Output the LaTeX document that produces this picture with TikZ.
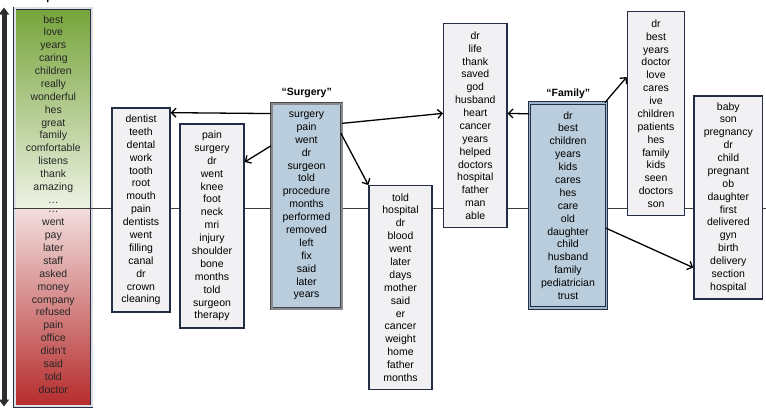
\documentclass[tikz,border=0pt]{standalone}
\usepackage{fontspec}
\setmainfont{Liberation Sans}
\usetikzlibrary{arrows.meta}

\definecolor{boxline}{RGB}{35,45,70}
\definecolor{boxfill}{RGB}{241,241,243}
\definecolor{topicfill}{RGB}{185,205,220}
\definecolor{topicgap}{RGB}{160,182,200}
\definecolor{surgline}{RGB}{70,72,76}
\definecolor{surggap}{RGB}{135,138,142}
\definecolor{greentop}{RGB}{118,164,58}
\definecolor{greenbot}{RGB}{238,242,228}
\definecolor{redtop}{RGB}{242,222,222}
\definecolor{redbot}{RGB}{182,44,44}
\definecolor{axisgray}{RGB}{45,45,45}
\definecolor{midline}{RGB}{60,60,60}

\newcommand\wlist{\fontsize{10.5}{12.88}\selectfont}

\tikzset{
  wordbox/.style={draw=boxline, line width=1.3pt, fill=boxfill, font=\wlist,
    align=center, inner sep=0pt},
  topicbox/.style={draw=boxline, line width=0.9pt, double=topicgap,
    double distance=1.6pt, fill=topicfill, font=\wlist, align=center, inner sep=0pt},
  surgbox/.style={topicbox, draw=surgline, double=surggap, double distance=2pt},
  wordcol/.style={font=\wlist, align=center, inner sep=0pt, text=black!85},
  topiclabel/.style={font=\bfseries\fontsize{10.5}{12}\selectfont, inner sep=0pt},
  conn/.style={draw=black, line width=1.3pt,
    -{Straight Barb[length=4.5pt,width=9pt]}},
}

\begin{document}
\begin{tikzpicture}[x=1pt,y=-1pt]
\useasboundingbox (0,0) rectangle (766,408);

% perspective axis
\draw[line width=5pt, axisgray,
  {Triangle[length=7pt,width=10pt]}-{Triangle[length=7pt,width=10pt]}]
  (4,7.5) -- (4,406.5);
\node[topiclabel, anchor=base] (persp) at (53,0.8) {Perspective};

% positive / negative word column
\shade[top color=greentop, bottom color=greenbot] (15,8.3) rectangle (91.7,208.3);
\shade[top color=redtop, bottom color=redbot] (15,208.3) rectangle (91.7,405.7);
\node[draw=boxline, line width=0.8pt, double=white!85!boxline, double distance=1.4pt,
  minimum width=77pt, minimum height=398pt, inner sep=0pt] (bar) at (53.3,207) {};

% dividing line
\draw[midline, line width=0.8pt] (bar.west |- 0,208.3) -- (766,208.3);

\node[wordcol] (poswords) at (53.3,109.4)
  {best\\love\\years\\caring\\children\\really\\wonderful\\hes\\great\\family\\comfortable\\listens\\thank\\amazing\\\dots};
\node[wordcol] (negwords) at (53.3,302.6)
  {\dots\\went\\pay\\later\\staff\\asked\\money\\company\\refused\\pain\\office\\didn't\\said\\told\\doctor};

% word boxes
\node[wordbox, minimum width=58pt, minimum height=204pt] (dent) at (141,210)
  {dentist\\teeth\\dental\\work\\tooth\\root\\mouth\\pain\\dentists\\went\\filling\\canal\\dr\\crown\\cleaning};
\node[wordbox, minimum width=64pt, minimum height=204pt] (pain) at (212,226)
  {pain\\surgery\\dr\\went\\knee\\foot\\neck\\mri\\injury\\shoulder\\bone\\months\\told\\surgeon\\therapy};
\node[surgbox, minimum width=70pt, minimum height=205pt] (surg) at (306.5,206)
  {surgery\\pain\\went\\dr\\surgeon\\told\\procedure\\months\\performed\\removed\\left\\fix\\said\\later\\years};
\node[topiclabel] (surglab) at (306.7,93.3) {``Surgery''};
\node[wordbox, minimum width=63pt, minimum height=203.6pt] (told) at (400.5,287.5)
  {told\\hospital\\dr\\blood\\went\\later\\days\\mother\\said\\er\\cancer\\weight\\home\\father\\months};
\node[wordbox, minimum width=63.3pt, minimum height=204pt] (life) at (475.3,125.7)
  {dr\\life\\thank\\saved\\god\\husband\\heart\\cancer\\years\\helped\\doctors\\hospital\\father\\man\\able};
\node[topicbox, minimum width=77pt, minimum height=205pt] (fam) at (568,205.5)
  {dr\\best\\children\\years\\kids\\cares\\hes\\care\\old\\daughter\\child\\husband\\family\\pediatrician\\trust};
\node[topiclabel] (famlab) at (568.3,93.3) {``Family''};
\node[wordbox, minimum width=57.4pt, minimum height=204pt] (best) at (656,113.7)
  {dr\\best\\years\\doctor\\love\\cares\\ive\\children\\patients\\hes\\family\\kids\\seen\\doctors\\son};
\node[wordbox, minimum width=68.7pt, minimum height=203pt] (baby) at (728.3,197.5)
  {baby\\son\\pregnancy\\dr\\child\\pregnant\\ob\\daughter\\first\\delivered\\gyn\\birth\\delivery\\section\\hospital};

% connectors
\draw[conn] ([yshift=-10.5pt]surg.north west) -- ([yshift=-5.3pt]dent.north east);
\draw[conn] ([yshift=-42.7pt]surg.north west) -- ([yshift=-38.7pt]pain.north east);
\draw[conn] ([yshift=-20.3pt]surg.north east) -- ([yshift=-90.3pt]life.north west);
\draw[conn] ([xshift=-1pt,yshift=-30.3pt]surg.north east) -- (told.north west);
\draw[conn] ([yshift=-11.3pt]fam.north west) -- ([yshift=-90.3pt]life.north east);
\draw[conn] ([xshift=-2pt]fam.north east) -- ([yshift=-66pt]best.north west);
\draw[conn] ([xshift=-1pt,yshift=-125.6pt]fam.north east) -- ([yshift=-172.3pt]baby.north west);
\end{tikzpicture}
\end{document}
